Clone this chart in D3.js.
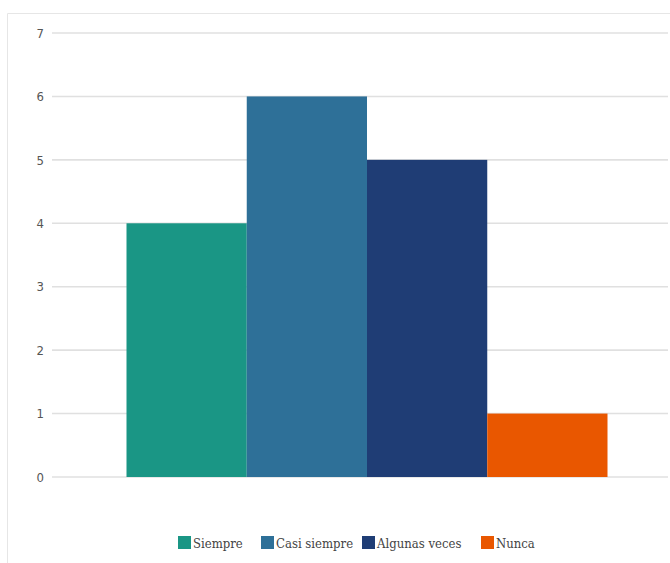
<!DOCTYPE html>
<html><head><meta charset="utf-8">
<script src="https://cdn.jsdelivr.net/npm/d3@7"></script>
<style>body{margin:0;background:#fff}svg{display:block}</style>
</head><body>
<svg id="c" width="670" height="563"></svg>
<script>
const series = ["Siempre","Casi siempre","Algunas veces","Nunca"];
const values = [4,6,5,1];
const colors = ["#1a9685","#2e7098","#1f3d75","#e95700"];
const yTicks = [0,1,2,3,4,5,6,7];

const svg = d3.select("#c");
// frame
svg.append("path").attr("d","M7.5,563 V13.5 H670").attr("fill","none").attr("stroke","#e6e6e6").attr("stroke-width",1);

const y = d3.scaleLinear().domain([0,7]).range([477,33]);
const x = d3.scaleBand().domain(series).range([126.5,607.5]).paddingInner(0).paddingOuter(0);

const grid = svg.append("g");
grid.selectAll("line").data(yTicks).join("line")
  .attr("x1",52).attr("x2",668)
  .attr("y1",d=>y(d)).attr("y2",d=>y(d))
  .attr("stroke","#e0e0e0").attr("stroke-width",1.6);

const axis = d3.axisLeft(y).tickValues(yTicks).tickSize(0).tickPadding(0).tickFormat(d3.format("d"));
const ag = svg.append("g").attr("transform","translate(44,0)").call(axis);
ag.select(".domain").remove();
ag.selectAll("text").attr("font-family","'DejaVu Sans Condensed', 'Liberation Sans Narrow', sans-serif")
  .attr("font-size",13).attr("fill","#555");

svg.append("g").selectAll("rect").data(series).join("rect")
  .attr("x",d=>x(d)).attr("width",x.bandwidth())
  .attr("y",(d,i)=>y(values[i])).attr("height",(d,i)=>y(0)-y(values[i]))
  .attr("fill",(d,i)=>colors[i]);

// legend
const legX = [178,261,362,481];
const lg = svg.append("g");
series.forEach((s,i)=>{
  const g = lg.append("g").attr("transform",`translate(${legX[i]},536)`);
  g.append("rect").attr("width",13).attr("height",13).attr("fill",colors[i]);
  g.append("text").attr("x",15).attr("y",12).text(s)
    .attr("font-family","'DejaVu Serif Condensed', 'Liberation Serif', serif")
    .attr("font-size",13).attr("fill","#444");
});
</script>
</body></html>
